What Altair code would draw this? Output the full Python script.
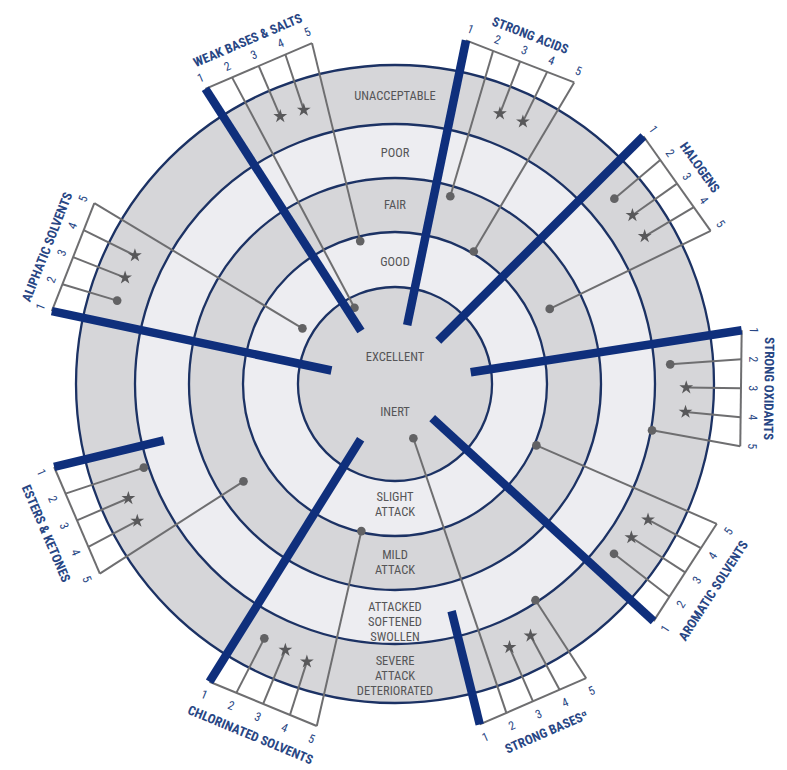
import math
import numpy as np
import pandas as pd
import altair as alt

# ---------------- data ----------------
SECTORS = ["WEAK BASES & SALTS", "STRONG ACIDS", "HALOGENS", "STRONG OXIDANTS",
           "AROMATIC SOLVENTS", "STRONG BASESᵅ", "CHLORINATED SOLVENTS",
           "ESTERS & KETONES", "ALIPHATIC SOLVENTS"]
# direction of each sector box (degrees clockwise from 12 o'clock)
SECTOR_ANGLE = [336.8, 21.2, 54.6, 90.7, 123.0, 156.5, 202.4, 246.8, 291.5]
LABEL_FLIP = [False, False, False, False, True, True, True, True, False]

# resistance level reached by each concentration line (0-1 centre, 1-2 ring 1, ... 4-5 outer ring)
CONC_1 = [0.65, 0.62, 0.63, 0.79, 0.52, 3.52, 0.67, 3.59, 0.67]
CONC_2 = [0.89, 2.81, 4.46, 4.27, 4.29, 0.59, 4.44, 4.08, 4.51]
CONC_3 = [4.53, 4.51, 4.53, 4.53, 4.37, 4.46, 4.47, 4.51, 4.51]
CONC_4 = [4.49, 4.54, 4.51, 4.54, 4.46, 4.44, 4.53, 4.54, 4.51]
CONC_5 = [1.91, 2.04, 2.37, 4.02, 2.04, 3.96, 1.98, 2.52, 1.20]
CONC_LABELS = ["1", "2", "3", "4", "5"]
MARKERS = ["bar", "dot", "star", "star", "dot"]

RING_LABELS_TOP = ["EXCELLENT", "GOOD", "FAIR", "POOR", "UNACCEPTABLE"]
RING_LABELS_BOTTOM = ["INERT", "SLIGHT\nATTACK", "MILD\nATTACK",
                      "ATTACKED\nSOFTENED\nSWOLLEN", "SEVERE\nATTACK\nDETERIORATED"]
RING_LABEL_LEVEL_TOP = [0.28, 1.45, 2.5, 3.46, 4.48]
RING_LABEL_LEVEL_BOTTOM = [0.29, 1.43, 2.49, 3.59, 4.54]

# ---------------- layout / style ----------------
RING_EDGES = [0, 97, 152, 206, 260, 319]       # radius (px) of level 0..5
GRAY = "#d6d6d9"
LIGHT = "#ededf1"
NAVY = "#1c3264"
BAR = "#0f2f7c"
LINE = "#6e6e70"
TEXT_GRAY = "#555557"
TEXT_BLUE = "#284684"
FONT = "Liberation Sans Narrow, Roboto Condensed, DejaVu Sans Condensed, Roboto, sans-serif"
BOX_DIST = 346.0
STEP = 29.0
LINE_H = 15
W, H = 771, 761
CX, CY = 387, 376
XS = alt.Scale(domain=[-CX, W - CX], nice=False, zero=False)
YS = alt.Scale(domain=[-(H - CY), CY], nice=False, zero=False)


def lvl2r(v):
    return float(np.interp(v, [0, 1, 2, 3, 4, 5], RING_EDGES))


# star symbol path
pts = []
for i in range(10):
    a = math.radians(-90 + 36 * i)
    rr = 1.0 if i % 2 == 0 else 0.38
    pts.append(f"{rr*math.cos(a):.3f},{rr*math.sin(a):.3f}")
STAR = "M" + "L".join(pts) + "Z"

# ---------------- tables ----------------
rings = pd.DataFrame({
    "r": RING_EDGES[1:][::-1],
    "col": [GRAY, LIGHT, GRAY, LIGHT, GRAY],
})

ty = [lvl2r(v) for v in RING_LABEL_LEVEL_TOP]
by = [-lvl2r(v) + (t.count("\n")) * LINE_H / 2 for v, t in zip(RING_LABEL_LEVEL_BOTTOM, RING_LABELS_BOTTOM)]
ring_txt = pd.DataFrame({
    "x": [0.0] * 10,
    "y": ty + by,
    "t": RING_LABELS_TOP + RING_LABELS_BOTTOM,
})

levels = [CONC_1, CONC_2, CONC_3, CONC_4, CONC_5]
line_rows, box_rows, lab_rows = [], [], []
for i, name in enumerate(SECTORS):
    phi = math.radians(SECTOR_ANGLE[i])
    u = np.array([math.sin(phi), math.cos(phi)])
    v = np.array([math.cos(phi), -math.sin(phi)])
    d = -1.0 if LABEL_FLIP[i] else 1.0
    ang = (SECTOR_ANGLE[i] - 180) % 360 if LABEL_FLIP[i] else SECTOR_ANGLE[i]
    tops = []
    for k in range(5):
        top = BOX_DIST * u + (k - 2) * STEP * d * v
        tops.append(top)
        r = lvl2r(levels[k][i])
        end = top * r / np.hypot(*top)
        num = top + (14 if LABEL_FLIP[i] else 12) * u
        line_rows.append({"sector": name, "conc": CONC_LABELS[k], "marker": MARKERS[k],
                          "x": top[0], "y": top[1], "xe": end[0], "ye": end[1],
                          "nx": num[0], "ny": num[1], "ang": ang})
    box_rows.append({"x": tops[0][0], "y": tops[0][1], "xe": tops[4][0], "ye": tops[4][1]})
    lp = (BOX_DIST + (34 if LABEL_FLIP[i] else 27.5)) * u
    lab_rows.append({"t": name, "x": lp[0], "y": lp[1], "ang": ang})

lines = pd.DataFrame(line_rows)
boxes = pd.DataFrame(box_rows)
labs = pd.DataFrame(lab_rows)


def X(f):
    return alt.X(f, scale=XS, axis=None)


def Y(f):
    return alt.Y(f, scale=YS, axis=None)


discs = alt.Chart(rings).mark_arc(theta=0, theta2=2 * math.pi, stroke=NAVY, strokeWidth=2.3).encode(
    x=alt.XDatum(0, scale=XS, axis=None),
    y=alt.YDatum(0, scale=YS, axis=None),
    radius=alt.Radius("r:Q", scale=None, stack=False),
    color=alt.Color("col:N", scale=None),
)

ring_labels = alt.Chart(ring_txt).mark_text(
    font=FONT, fontSize=12.5, color=TEXT_GRAY, lineBreak="\n", lineHeight=LINE_H,
    align="center", baseline="middle").encode(x=X("x:Q"), y=Y("y:Q"), text="t:N")

box_edges = alt.Chart(boxes).mark_rule(color=LINE, strokeWidth=2).encode(
    x=X("x:Q"), y=Y("y:Q"), x2="xe:Q", y2="ye:Q")

thin = alt.Chart(lines[lines.marker != "bar"]).mark_rule(color=LINE, strokeWidth=2).encode(
    x=X("x:Q"), y=Y("y:Q"), x2="xe:Q", y2="ye:Q")

bars = alt.Chart(lines[lines.marker == "bar"]).mark_rule(color=BAR, strokeWidth=8.5, strokeCap="butt").encode(
    x=X("x:Q"), y=Y("y:Q"), x2="xe:Q", y2="ye:Q")

dots = alt.Chart(lines[lines.marker == "dot"]).mark_circle(size=75, color="#626264", opacity=1).encode(
    x=X("xe:Q"), y=Y("ye:Q"))

stars = alt.Chart(lines[lines.marker == "star"]).mark_point(
    shape=STAR, size=210, filled=True, color="#58585a", opacity=1).encode(
    x=X("xe:Q"), y=Y("ye:Q"))

numbers = alt.Chart(lines).mark_text(font=FONT, fontSize=12, color=TEXT_BLUE,
                                     align="center", baseline="middle").encode(
    x=X("nx:Q"), y=Y("ny:Q"), text="conc:N", angle=alt.Angle("ang:Q", scale=None))

labels = alt.Chart(labs).mark_text(font=FONT, fontSize=13, fontWeight="bold", color=TEXT_BLUE,
                                   align="center", baseline="middle").encode(
    x=X("x:Q"), y=Y("y:Q"), text="t:N", angle=alt.Angle("ang:Q", scale=None))

chart = alt.layer(discs, ring_labels, box_edges, thin, dots, stars, bars, numbers, labels).properties(
    width=W, height=H, padding=0, autosize="none", background="white"
).configure_view(stroke=None)

chart.save("out.html", embed_options={"renderer": "svg", "actions": False})
